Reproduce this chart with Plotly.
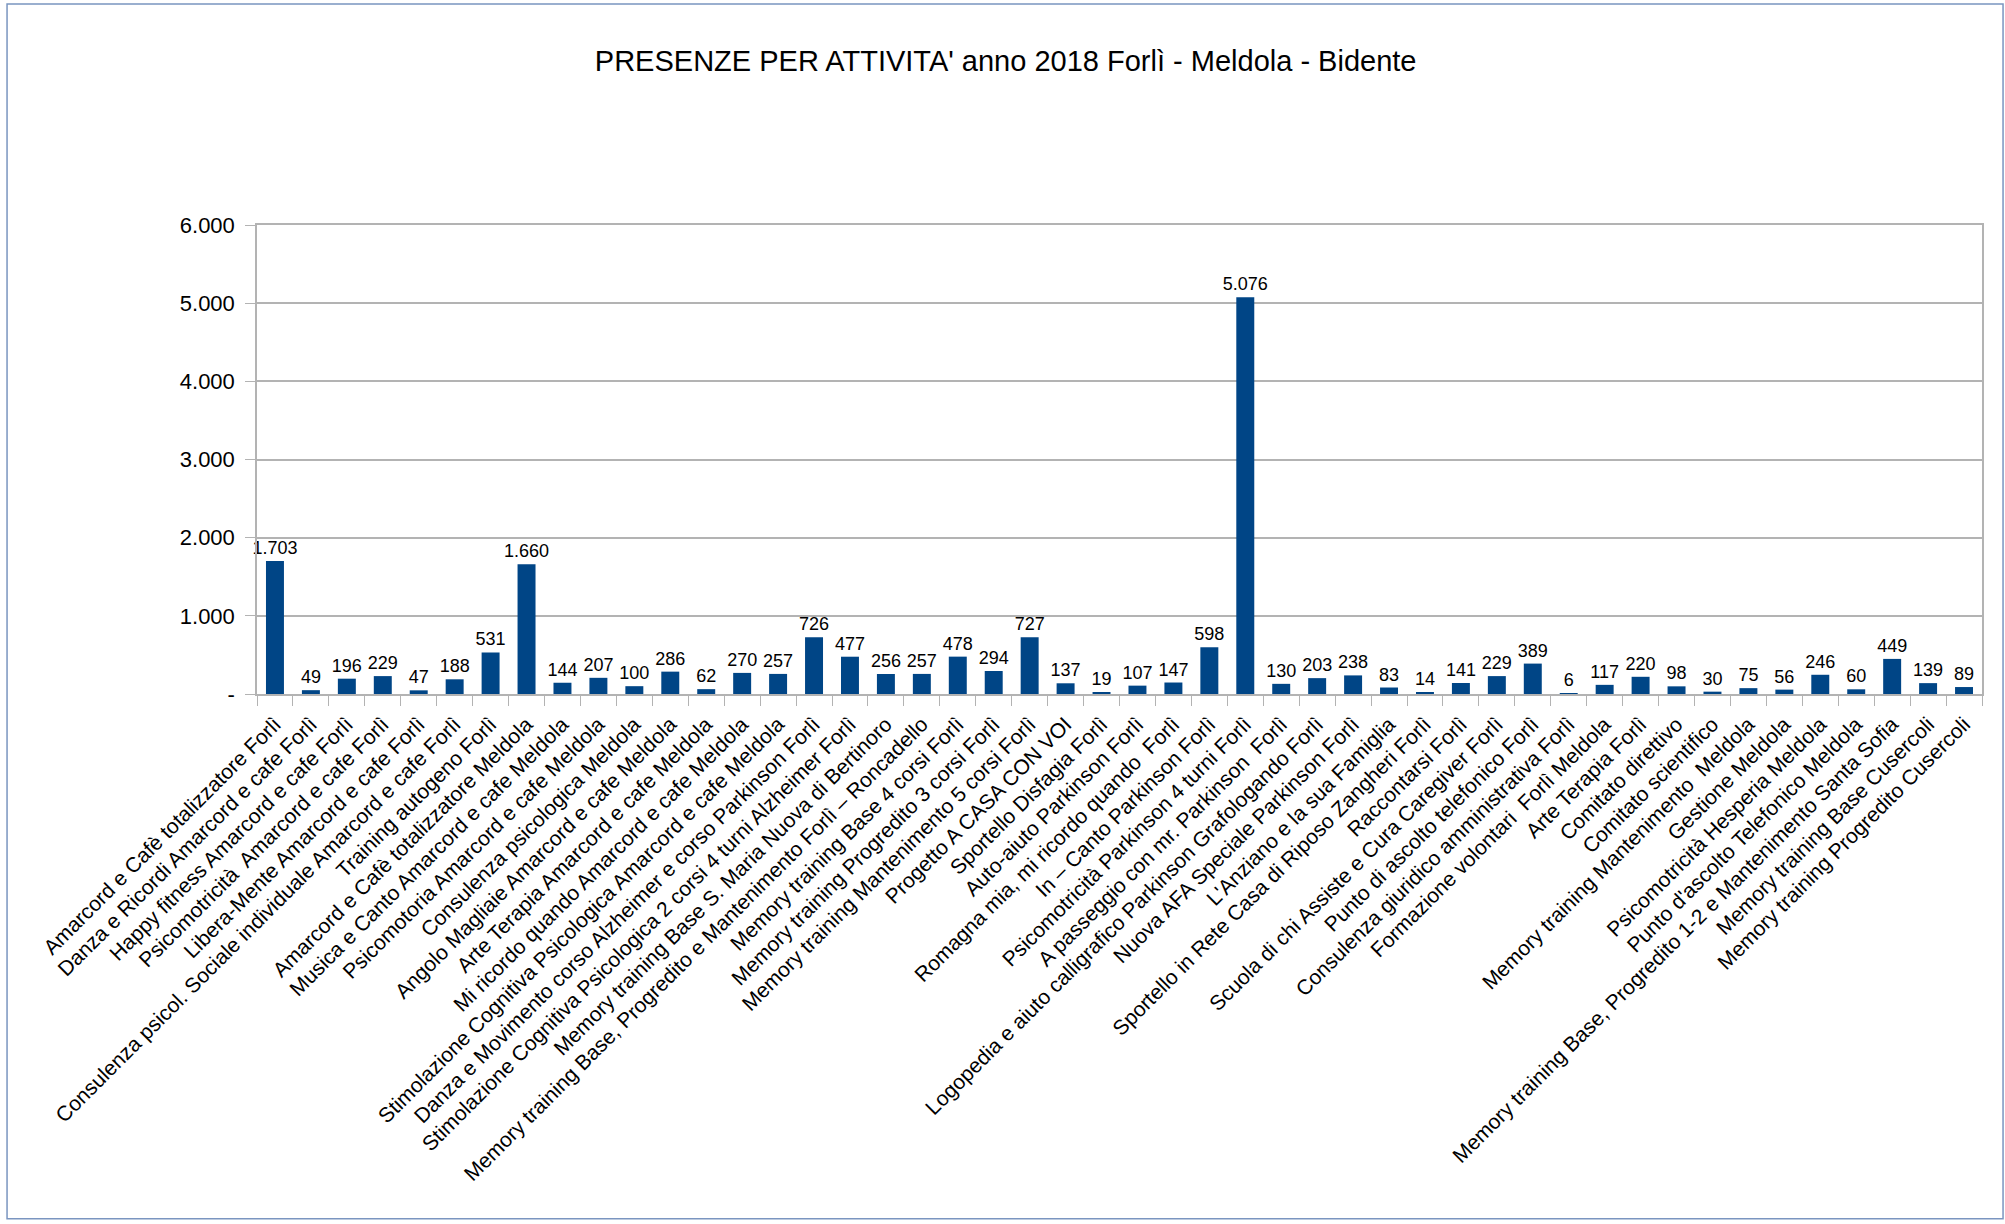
"""Presenze per attività 2018 - bar chart."""

import plotly.graph_objects as go

TITLE = "PRESENZE PER ATTIVITA' anno 2018 Forlì - Meldola - Bidente"

activities = [
    "Amarcord e Cafè totalizzatore Forlì",
    "Danza e Ricordi Amarcord e cafe Forlì",
    "Happy fitness Amarcord e cafe Forlì",
    "Psicomotricità  Amarcord e cafe Forlì",
    "Libera-Mente Amarcord e cafe Forlì",
    "Consulenza psicol. Sociale individuale Amarcord e cafe Forlì",
    "Training autogeno Forlì",
    "Amarcord e Cafè totalizzatore Meldola",
    "Musica e Canto Amarcord e cafe Meldola",
    "Psicomotoria Amarcord e cafe Meldola",
    "Consulenza psicologica Meldola",
    "Angolo Magliaie Amarcord e cafe Meldola",
    "Arte Terapia Amarcord e cafe Meldola",
    "Mi ricordo quando Amarcord e cafe Meldola",
    "Stimolazione Cognitiva Psicologica Amarcord e cafe Meldola",
    "Danza e Movimento corso Alzheimer e corso Parkinson Forlì",
    "Stimolazione Cognitiva Psicologica 2 corsi 4 turni Alzheimer Forlì",
    "Memory training Base S. Maria Nuova di Bertinoro",
    "Memory training Base, Progredito e Mantenimento Forlì – Roncadello",
    "Memory training Base 4 corsi Forlì",
    "Memory training Progredito 3 corsi Forlì",
    "Memory training Mantenimento 5 corsi Forlì",
    "Progetto A CASA CON VOI",
    "Sportello Disfagia Forlì",
    "Auto-aiuto Parkinson Forlì",
    "Romagna mia, mi ricordo quando  Forlì",
    "In – Canto Parkinson Forlì",
    "Psicomotricità Parkinson 4 turni Forlì",
    "A passeggio con mr. Parkinson  Forlì",
    "Logopedia e aiuto calligrafico Parkinson Grafologando Forlì",
    "Nuova AFA Speciale Parkinson Forlì",
    "L'Anziano e la sua Famiglia",
    "Sportello in Rete Casa di Riposo Zangheri Forlì",
    "Raccontarsi Forlì",
    "Scuola di chi Assiste e Cura Caregiver Forlì",
    "Punto di ascolto telefonico Forlì",
    "Consulenza giuridico amministrativa Forlì",
    "Formazione volontari  Forlì Meldola",
    "Arte Terapia Forlì",
    "Comitato direttivo",
    "Comitato scientifico",
    "Memory training Mantenimento  Meldola",
    "Gestione Meldola",
    "Psicomotricità Hesperia Meldola",
    "Punto d'ascolto Telefonico Meldola",
    "Memory training Base, Progredito 1-2 e Mantenimento Santa Sofia",
    "Memory training Base Cusercoli",
    "Memory training Progredito Cusercoli",
]

presenze = [
    1703, 49, 196, 229, 47, 188, 531, 1660, 144, 207, 100, 286, 62, 270,
    257, 726, 477, 256, 257, 478, 294, 727, 137, 19, 107, 147, 598, 5076,
    130, 203, 238, 83, 14, 141, 229, 389, 6, 117, 220, 98, 30, 75, 56,
    246, 60, 449, 139, 89,
]

y_ticks = [0, 1000, 2000, 3000, 4000, 5000, 6000]
y_tick_labels = ["-", "1.000", "2.000", "3.000", "4.000", "5.000", "6.000"]

FONT = "Liberation Sans, Arial, sans-serif"
BAR_COLOR = "#004586"
GRID = "#b3b3b3"


def it_number(v):
    # Italian thousands separator
    return f"{v:,}".replace(",", ".")


fig = go.Figure()

fig.add_trace(
    go.Bar(
        x=activities,
        y=presenze,
        marker_color=BAR_COLOR,
        marker_line_width=0,
        text=[it_number(v) for v in presenze],
        textposition="outside",
        constraintext="none",
        textfont=dict(family=FONT, size=18, color="#000000"),
        cliponaxis=False,
    )
)

# outer chart frame
fig.add_shape(
    type="rect",
    xref="paper",
    yref="paper",
    x0=-0.1449,
    x1=1.0122,
    y0=-1.119,
    y1=1.471,
    line=dict(color="#7a95c0", width=1.5),
    layer="below",
)

fig.update_layout(
    width=2005,
    height=1224,
    paper_bgcolor="white",
    plot_bgcolor="white",
    font=dict(family=FONT, color="#000000"),
    title=dict(
        text=TITLE,
        x=0.434,
        xref="paper",
        xanchor="center",
        y=1 - 61 / 1224,
        yref="container",
        yanchor="middle",
        font=dict(family=FONT, size=29, color="#000000"),
    ),
    margin=dict(l=257, r=23, t=225, b=530, autoexpand=False),
    bargap=0.5,
    showlegend=False,
)

fig.update_xaxes(
    type="category",
    tickangle=-45,
    tickfont=dict(family=FONT, size=21, color="#000000"),
    ticks="outside",
    ticklen=10,
    tickcolor=GRID,
    tickson="boundaries",
    ticklabelstandoff=8,
    showline=True,
    linecolor=GRID,
    linewidth=1.5,
    mirror=True,
    showgrid=False,
    automargin=False,
)

fig.update_yaxes(
    range=[0, 6000],
    tickvals=y_ticks,
    ticktext=y_tick_labels,
    tickfont=dict(family=FONT, size=22, color="#000000"),
    ticks="outside",
    ticklen=10,
    tickcolor=GRID,
    ticklabelstandoff=6,
    showgrid=True,
    gridcolor=GRID,
    gridwidth=1.5,
    showline=True,
    linecolor=GRID,
    linewidth=1.5,
    mirror=True,
    zeroline=False,
    automargin=False,
)

# drop the default page margin so the figure sits at the window origin
fig.write_html(
    "out.html",
    config={"displayModeBar": False},
    post_script="document.body.style.margin='0px';",
)
